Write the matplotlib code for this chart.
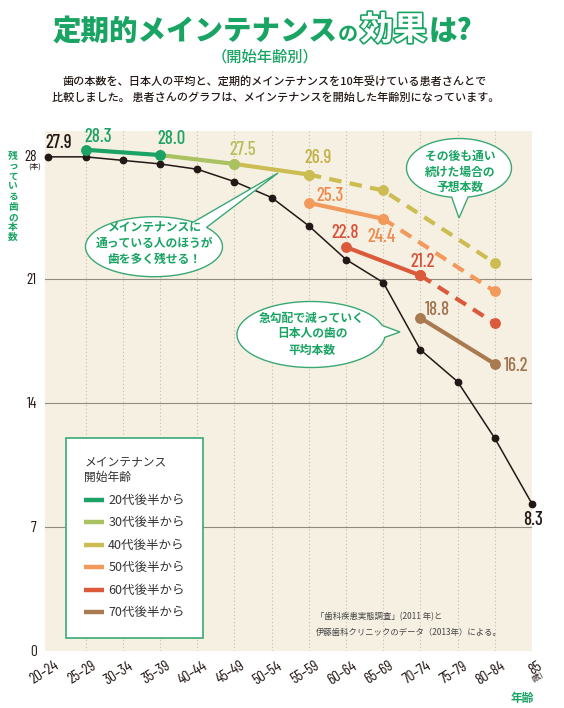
#!/usr/bin/env python3
"""
plot.py - 定期的メインテナンスの効果（開始年齢別）: 残っている歯の本数の比較
"""

import numpy as np
import matplotlib
matplotlib.use('Agg')
import matplotlib.pyplot as plt
import matplotlib.transforms as mtransforms
import matplotlib.patheffects as pe
from matplotlib.patches import Polygon
from matplotlib.lines import Line2D
from matplotlib.font_manager import FontProperties, findfont

# ---- データ ----
ages = ['20–24', '25–29', '30–34', '35–39', '40–44', '45–49', '50–54',
        '55–59', '60–64', '65–69', '70–74', '75–79', '80–84', '85']
# 日本人の平均（歯科疾患実態調査 2011年）
avg_teeth = [27.9, 27.9, 27.7, 27.5, 27.2, 26.5, 25.6, 24.0, 22.1, 20.8, 17.0, 15.2, 12.0, 8.3]

groups = ['20代後半から', '30代後半から', '40代後半から', '50代後半から', '60代後半から', '70代後半から']
# 10年間メインテナンスを受けた実績
maint_ages = [['25–29', '35–39'], ['35–39', '45–49'], ['45–49', '55–59'],
              ['55–59', '65–69'], ['60–64', '70–74'], ['70–74', '80–84']]
maint_teeth = [[28.3, 28.0], [28.0, 27.5], [27.5, 26.9],
               [25.3, 24.4], [22.8, 21.2], [18.8, 16.2]]
# その後も通い続けた場合の予想
proj_ages = [[], [], ['55–59', '65–69', '80–84'], ['65–69', '80–84'], ['70–74', '80–84'], []]
proj_teeth = [[], [], [26.9, 26.0, 21.9], [24.4, 20.3], [21.2, 18.5], []]

yticks = [0, 7, 14, 21, 28]

# 数値ラベル: (系列 -1=平均, 年齢, 値)
value_labels = [(-1, '20–24', 27.9), (-1, '85', 8.3),
                (0, '25–29', 28.3), (0, '35–39', 28.0), (1, '45–49', 27.5),
                (2, '55–59', 26.9), (3, '55–59', 25.3), (3, '65–69', 24.4),
                (4, '60–64', 22.8), (4, '70–74', 21.2), (5, '70–74', 18.8), (5, '80–84', 16.2)]
# ラベル位置のずらし (画素, 右・下が正)
label_offsets = [(10, -14), (1, 16), (12, -13), (11, -16), (8, -14), (9, -17),
                 (21, -7), (-2, 18), (-1, -14), (2, -13), (17, -8), (21, 2)]

# ---- スタイル ----
GREEN = '#19a463'
BUBBLE_EDGE = '#3aa874'
BLACK = '#231815'
BG = '#f6f0e3'
colors = ['#1ba265', '#aac262', '#cbbd52', '#f29a5c', '#db5a3c', '#a9794f']
label_colors = ['#1ba265', '#b9bd5c', '#c3b146', '#ef8a4c', '#d6533a', '#a0744d']

W, H = 564, 708


def pick_font(names):
    for n in names:
        try:
            findfont(FontProperties(family=n), fallback_to_default=False)
            return n
        except Exception:
            pass
    return 'DejaVu Sans'


NUM_FONT = pick_font(['Barlow Condensed', 'Liberation Sans Narrow', 'DejaVu Sans'])
NUM_SCALE = 1.0 if NUM_FONT != 'DejaVu Sans' else 0.78
plt.rcParams['font.family'] = ['Noto Sans CJK JP', 'DejaVu Sans']

fig = plt.figure(figsize=(W / 100, H / 100), dpi=100)
# 画像の画素座標（左上原点）で装飾を置くための変換
px = mtransforms.Affine2D().scale(1 / W, -1 / H).translate(0, 1) + fig.transFigure

ax = fig.add_axes([45 / W, 1 - 650.7 / H, 487 / W, (650.7 - 131) / H])
ax.set_facecolor(BG)
ax.set_xlim(-0.094, len(ages) - 1)
ax.set_ylim(0, 29.36)
for s in ax.spines.values():
    s.set_visible(False)

# グリッド
for i in range(1, len(ages) - 1):
    ax.axvline(i, color='#c4beb0', lw=0.8, ls=(0, (1, 2.2)), zorder=1)
for v in yticks[1:-1]:
    ax.axhline(v, color='#8f8b82', lw=0.8, zorder=1)

xi = {a: i for i, a in enumerate(ages)}

# 日本人の平均
ax.plot(range(len(ages)), avg_teeth, color=BLACK, lw=1.1, marker='o', ms=4.6,
        zorder=3, clip_on=False)

# メインテナンス患者（若い開始年齢ほど上に重ねる）
for k in reversed(range(len(groups))):
    if proj_ages[k]:
        ax.plot([xi[a] for a in proj_ages[k]], proj_teeth[k], color=colors[k], lw=3.0,
                ls=(0, (3, 2)), dash_capstyle='butt', marker='o', ms=6.8, zorder=4)
    ax.plot([xi[a] for a in maint_ages[k]], maint_teeth[k], color=colors[k], lw=3.0,
            marker='o', ms=6.8, solid_capstyle='butt', zorder=5)

# 数値ラベル
for (k, a, v), (dx, dy) in zip(value_labels, label_offsets):
    c = BLACK if k < 0 else label_colors[k]
    ax.annotate(f'{v:.1f}', xy=(xi[a], v), xytext=(dx, -dy), textcoords='offset pixels',
                ha='center', va='center', color=c, fontsize=13.5 * NUM_SCALE,
                family=NUM_FONT, weight=500, zorder=6)

# 軸ラベル
ax.set_xticks([])
ax.set_yticks(yticks)
ax.set_yticklabels([str(v) for v in yticks], family=NUM_FONT, fontsize=11 * NUM_SCALE,
                   weight='normal', color=BLACK)
ax.tick_params(axis='y', length=0, pad=6)
for i, a in enumerate(ages):
    ax.annotate(a, xy=(i, 0), xycoords=('data', 'axes fraction'), xytext=(5.5, -8),
                textcoords='offset pixels', rotation=32, ha='right', va='top',
                rotation_mode='anchor', family=NUM_FONT, weight='normal',
                fontsize=11 * NUM_SCALE, color=BLACK)
ax.annotate('(歳)', xy=(len(ages) - 1, 0), xycoords=('data', 'axes fraction'),
            xytext=(5, -26), textcoords='offset pixels', rotation=30, ha='center',
            va='center', fontsize=5.5, color=BLACK)
fig.text(522, 698, '年齢', transform=px, ha='center', va='center', fontsize=8.5,
         weight='bold', color=GREEN)
fig.text(35, 167, '(本)', transform=px, ha='center', va='center', fontsize=5.5, color=BLACK)
fig.text(13, 151, '\n'.join('残っている歯の本数'), transform=px, ha='center', va='top',
         fontsize=7, weight='bold', color=GREEN, linespacing=1.02)

# 凡例
handles = [Line2D([], [], color=c, lw=3.2, solid_capstyle='butt') for c in colors]
leg = ax.legend(handles, groups, title='メインテナンス\n開始年齢', alignment='left',
                loc='upper left', bbox_to_anchor=(65.7, 437.7), bbox_transform=px,
                borderaxespad=0, fancybox=False, frameon=True, framealpha=1,
                edgecolor=BUBBLE_EDGE, facecolor='white', fontsize=9, title_fontsize=8.5,
                borderpad=1.5, labelspacing=0.76, handlelength=1.55, handletextpad=0.35)
leg.get_frame().set_linewidth(1.2)
leg.set_zorder(7)
for t in leg.get_texts():
    t.set_color('#333333')
leg.get_title().set_color('#333333')

# 出典
fig.text(316, 617, '「歯科疾患実態調査」(2011 年)と', transform=px, ha='left', va='center',
         fontsize=6, color='#444444')
fig.text(316, 632, '伊藤歯科クリニックのデータ（2013年）による。', transform=px, ha='left',
         va='center', fontsize=6, color='#444444')


def bubble(cx, cy, w, h, a1, a2, tip, text, tx, ty):
    """楕円の吹き出し（a1〜a2 の範囲から tip へしっぽを出す）"""
    t = np.radians(np.linspace(a2, a1 + 360, 160))
    pts = np.column_stack([cx + w / 2 * np.cos(t), cy + h / 2 * np.sin(t)])
    pts = np.vstack([pts, tip])
    fig.add_artist(Polygon(pts, closed=True, transform=px, facecolor='white',
                           edgecolor=BUBBLE_EDGE, lw=1.0, zorder=8))
    fig.text(tx, ty, text, transform=px, ha='center', va='center', fontsize=8.5,
             weight='bold', color=GREEN, linespacing=1.3, zorder=9)


bubble(154, 246.7, 137, 60, -55, -40, (278, 173), 'メインテナンスに\n通っている人のほうが\n歯を多く残せる！', 155, 243)
bubble(459, 168, 105, 59, 80, 98, (459, 218), 'その後も通い\n続けた場合の\n予想本数', 460, 172)
bubble(311, 334.5, 148, 66, -16, 5, (400, 332), '急勾配で減っていく\n日本人の歯の\n平均本数', 312, 334)

# タイトル（部品ごとに横へつなげる）
base_y = H - 40
t1 = fig.text(53, 40, '定期的メインテナンス', transform=px, ha='left', va='baseline',
              fontsize=20.5, weight='heavy', color=GREEN)
t2 = fig.text(0, 0, 'の', ha='left', va='baseline', fontsize=14.5, weight='bold', color=GREEN)
t3 = fig.text(0, 0, '効果', ha='left', va='baseline', fontsize=24, weight='bold', color='white',
              path_effects=[pe.Stroke(linewidth=2.4, foreground=GREEN), pe.Normal()])
t4 = fig.text(0, 0, 'は?', ha='left', va='baseline', fontsize=20.5, weight='heavy', color=GREEN)
renderer = fig.canvas.get_renderer()
x_cur = t1.get_window_extent(renderer).x1
for t, gap in [(t2, 0), (t3, 2), (t4, 2)]:
    t.set_transform(mtransforms.IdentityTransform())
    t.set_position((x_cur + gap, base_y))
    x_cur = t.get_window_extent(renderer).x1

fig.text(265, 57, '（開始年齢別）', transform=px, ha='center', va='center', fontsize=11,
         weight='medium', color=GREEN)
fig.text(62, 81, '歯の本数を、日本人の平均と、定期的メインテナンスを10年受けている患者さんとで',
         transform=px, ha='left', va='center', fontsize=8, weight='medium', color=BLACK)
fig.text(52, 98, '比較しました。 患者さんのグラフは、メインテナンスを開始した年齢別になっています。',
         transform=px, ha='left', va='center', fontsize=8, weight='medium', color=BLACK)

fig.savefig('out.png', dpi=100)
